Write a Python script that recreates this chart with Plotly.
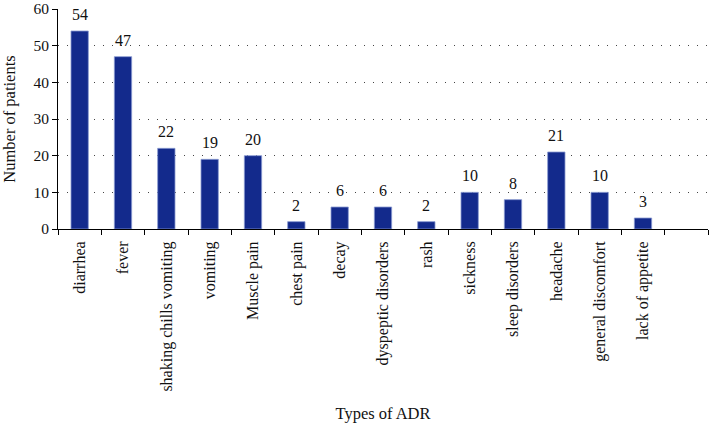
import plotly.graph_objects as go

categories = [
    "diarrhea", "fever", "shaking chills vomiting", "vomiting", "Muscle pain",
    "chest pain", "decay", "dyspeptic disorders", "rash", "sickness",
    "sleep disorders", "headache", "general discomfort", "lack of appetite", " ",
]
patients = [54, 47, 22, 19, 20, 2, 6, 6, 2, 10, 8, 21, 10, 3, None]

FONT = "Liberation Serif, Times New Roman, serif"

fig = go.Figure()

fig.add_trace(go.Bar(
    x=categories,
    y=patients,
    width=0.4,
    marker=dict(color="#132a8c", line=dict(color="#8a9bd0", width=0.8)),
    hoverinfo="x+y",
))

# value labels above the bars
for cat, val in zip(categories, patients):
    if val is None:
        continue
    fig.add_annotation(
        x=cat, y=val, text=str(val),
        showarrow=False, yanchor="bottom", yshift=6,
        font=dict(family=FONT, size=16, color="#111"),
    )

fig.update_layout(
    width=709,
    height=425,
    margin=dict(l=58, r=1, t=9, b=196),
    plot_bgcolor="white",
    paper_bgcolor="white",
    font=dict(family=FONT, size=16, color="#111"),
    showlegend=False,
)

fig.update_xaxes(
    type="category",
    range=[-0.5, 14.5],
    tickangle=-90,
    tickson="boundaries",
    ticks="outside",
    ticklen=5,
    tickcolor="black",
    ticklabelstandoff=5,
    showline=True,
    linecolor="black",
    linewidth=1,
    showgrid=False,
    automargin=False,
    tickfont=dict(size=16),
    title=dict(text="Types of ADR", font=dict(size=16.5), standoff=16),
)

fig.update_yaxes(
    range=[0, 60],
    tickvals=[0, 10, 20, 30, 40, 50, 60],
    ticks="outside",
    ticklen=5,
    tickcolor="black",
    showline=True,
    linecolor="black",
    linewidth=1,
    showgrid=True,
    gridcolor="#444",
    griddash="1px,8px",
    gridwidth=1,
    zeroline=False,
    automargin=False,
    ticklabeloverflow="allow",
    tickfont=dict(size=15.5),
    title=dict(text="Number of patients", font=dict(size=16.5), standoff=14),
)

fig.write_html(
    "out.html",
    config={"displayModeBar": False},
    post_script="document.body.style.margin='0';",
)
